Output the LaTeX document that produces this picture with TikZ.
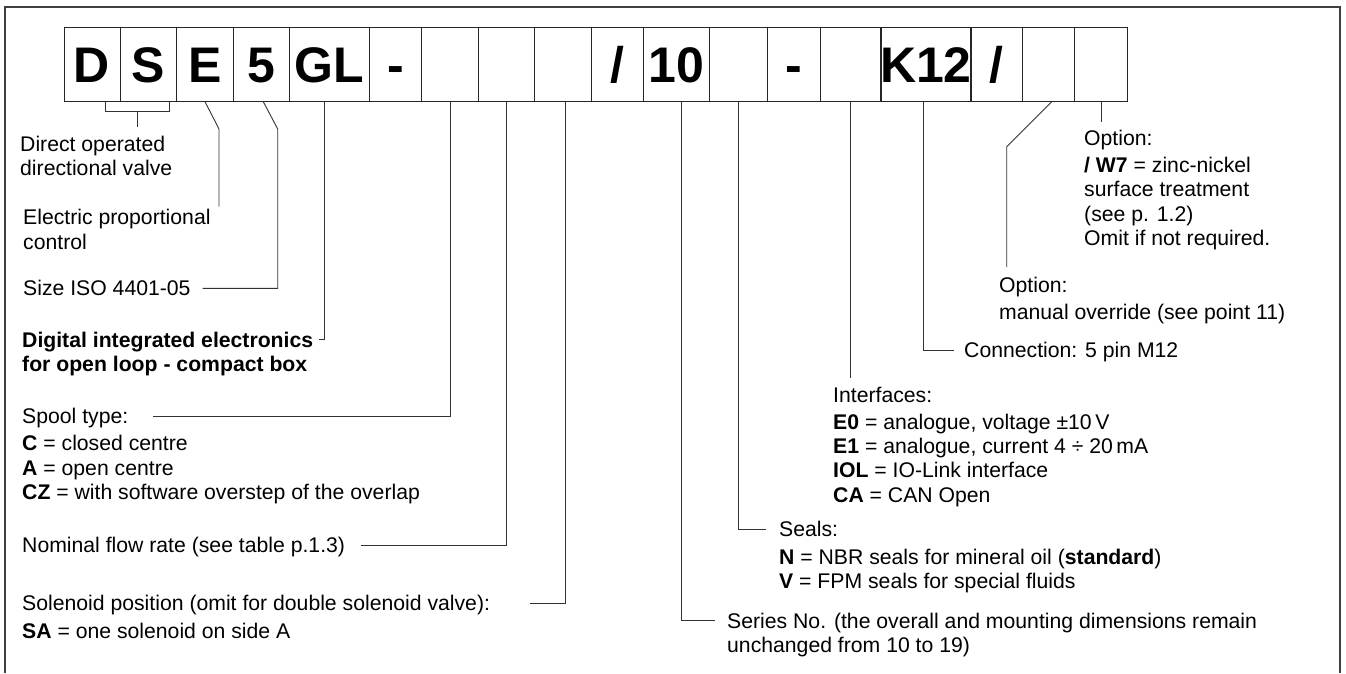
\documentclass[tikz,border=0pt]{standalone}
\usepackage{fontspec}
\setmainfont{Liberation Sans}
\usetikzlibrary{positioning,calc}

\tikzset{
  codebox/.style={draw=black!85, line width=1pt, minimum height=74.4pt,
    inner sep=0pt, outer sep=0pt, text height=35.8pt, text depth=0pt,
    font=\fontsize{50}{50}\selectfont\bfseries},
  note/.style={inner sep=0pt, align=left, font=\fontsize{21.2}{24.3}\selectfont},
  lead/.style={draw=black!80, line width=0.9pt},
}

\begin{document}
\begin{tikzpicture}[x=1pt,y=-1pt]
\useasboundingbox (0,0) rectangle (1346,673);
% frame, open at the bottom
\draw[black!75, line width=1.2pt] (5,673) -- (5,7) -- (1340,7) -- (1340,673);

% code boxes
\foreach \xa/\xb/\nm/\txt in {64/120/bD/D, 120/176.7/bS/S, 176.7/233.3/bE/E,
    233.3/289.3/bSize/5, 289.3/369.3/bGL/GL, 369.3/421.7/bDashA/-,
    421.7/478.3/bSpool/{}, 478.3/534.3/bFlow/{}, 534.3/591/bSol/{},
    591/643.3/bSlashA/{/}, 643.3/709/bSeries/10, 709/767.7/bSeals/{},
    767.7/820.7/bDashB/-, 820.7/881/bIface/{}, 881/970.7/bConn/K12,
    970.7/1022.7/bSlashB/{/}, 1022.7/1074.7/bManual/{}, 1074.7/1127.7/bOpt/{}}
  \node[codebox, minimum width={\xb-\xa}] (\nm) at ({(\xa+\xb)/2},64.5) {\txt};

% left column
\node[note, anchor=north west] (tDS) at (20,135.5) {Direct operated\\directional valve};
\node[note, anchor=north west] (tE) at (23,209.4) {Electric proportional\\control};
\node[note, anchor=base west] (tSize) at (23,295.9) {Size ISO 4401-05};
\node[note, anchor=north west, font=\fontsize{21.2}{24.3}\selectfont\bfseries] (tGL) at (22,332)
  {Digital integrated electronics\\for open loop - compact box};
\node[note, anchor=base west] (tSpool) at (22,423.6) {Spool type:};
\node[note, anchor=north west] (tSpoolDef) at (22,435.4)
  {\textbf{C} = closed centre\\\textbf{A} = open centre\\\textbf{CZ} = with software overstep of the overlap};
\node[note, anchor=base west] (tFlow) at (22,552.6) {Nominal flow rate (see table p.1.3)};
\node[note, anchor=base west] (tSol) at (22,610.9) {Solenoid position (omit for double solenoid valve):};
\node[note, anchor=base west] (tSolDef) at (22,638.6) {\textbf{SA} = one solenoid on side A};

% right column
\node[note, anchor=north west] (tSeries) at (727,612.8)
  {Series No. (the overall and mounting dimensions remain\\unchanged from 10 to 19)};
\node[note, anchor=base west] (tSeals) at (779,536.6) {Seals:};
\node[note, anchor=north west] (tSealsDef) at (779,548.8)
  {\textbf{N} = NBR seals for mineral oil (\textbf{standard})\\\textbf{V} = FPM seals for special fluids};
\node[note, anchor=base west] (tIface) at (833,402.6) {Interfaces:};
\node[note, anchor=north west] (tIfaceDef) at (833,413.8)
  {\textbf{E0} = analogue, voltage ±10\,V\\\textbf{E1} = analogue, current 4 ÷ 20\,mA\\
   \textbf{IOL} = IO-Link interface\\\textbf{CA} = CAN Open};
\node[note, anchor=base west] (tConn) at (964,357.6) {Connection: 5 pin M12};
\node[note, anchor=north west] (tManual) at (999,277.1) {Option:\\[2.4pt]manual override (see point 11)};
\node[note, anchor=north west] (tOpt) at (1084,130.4)
  {Option:\\[2.4pt]\textbf{/ W7} = zinc-nickel\\surface treatment\\(see p. 1.2)\\Omit if not required.};

% leaders
\coordinate (brL) at ([xshift=13pt]bD.south);
\coordinate (brR) at ([xshift=20.7pt]bS.south);
\draw[lead] (brL) -- ++(0,10) -| (brR);
\draw[lead] ($(brL)!0.5!(brR)+(0,10)$) -- ++(0,15.6);
\draw[lead] (bE.south) -- ++(14,27.3) -- ++(0,77.7);
\draw[lead, shorten >=12pt] ([xshift=2pt]bSize.south) -- ++(14.4,27.3) |- (tSize.east);
\draw[lead] ([xshift=-5pt]bGL.south) |- ([xshift=6pt,yshift=-7.9pt]tGL.north east);
\draw[lead, shorten >=25pt] (bSpool.south) |- ([yshift=7.6pt]tSpool.base east);
\draw[lead, shorten >=16pt] (bFlow.south) |- ([yshift=7.6pt]tFlow.base east);
\draw[lead, shorten >=40pt] ([xshift=3pt]bSol.south) |- ([yshift=7.6pt]tSol.base east);
\draw[lead, shorten >=12.4pt] ([xshift=5.5pt]bSeries.south) |- ([yshift=-7.9pt]tSeries.north west);
\draw[lead, shorten >=13pt] (bSeals.south) |- ([yshift=7.6pt]tSeals.base west);
\draw[lead, shorten >=9pt] (bIface.south) -- (bIface.south |- tIface.north);
\draw[lead, shorten >=10pt] ([xshift=-2pt]bConn.south) |- ([yshift=7.6pt]tConn.base west);
\draw[lead, shorten >=10pt] ([xshift=3pt]bManual.south) -- ++(-45,45) coordinate (mBend)
  -- (mBend |- tManual.north);
\draw[lead, shorten >=8.7pt] (bOpt.south) -- (bOpt.south |- tOpt.north);
\end{tikzpicture}
\end{document}
